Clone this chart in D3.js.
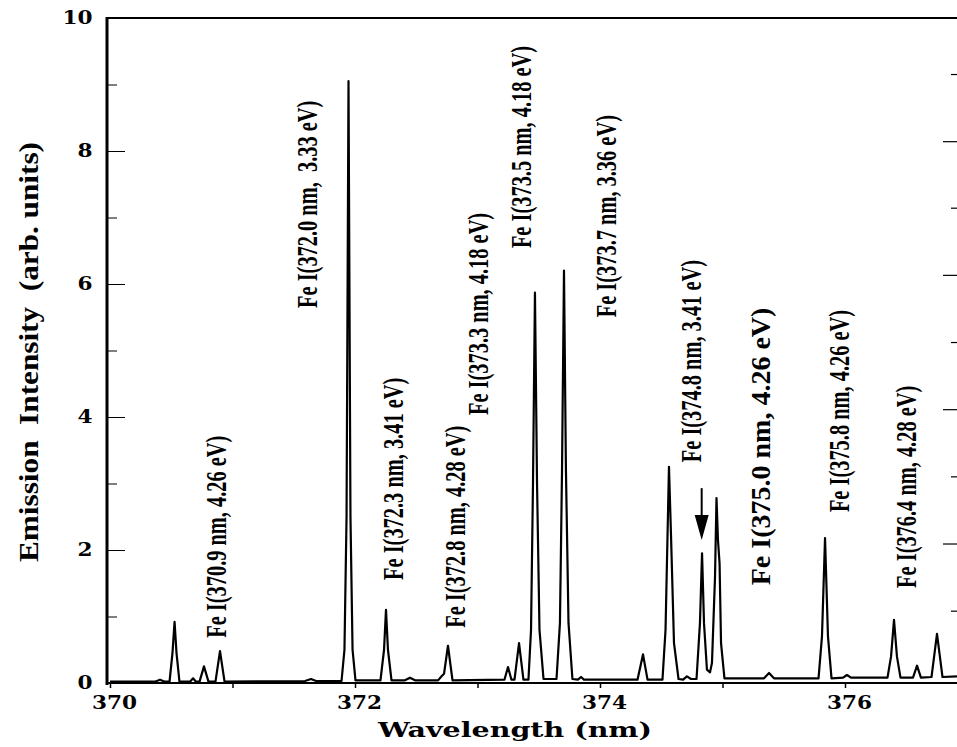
<!DOCTYPE html>
<html>
<head>
<meta charset="utf-8">
<script src="https://cdn.jsdelivr.net/npm/d3@7"></script>
<style>
  html, body { margin: 0; padding: 0; background: #fff; }
  svg { display: block; }
  text { white-space: pre; }
</style>
</head>
<body>
<div id="root"></div>
<script>
const WIDTH = 957;
const HEIGHT = 747;

// spectrum trace, points (nm, arb. units)
const wavelength = [
  370.000, 370.367, 370.408, 370.449, 370.486, 370.510, 370.527, 370.543, 370.567,
  370.653, 370.678, 370.702, 370.731, 370.767, 370.804, 370.861, 370.898, 370.935,
  371.592, 371.641, 371.682, 371.890, 371.914, 371.931, 371.947, 371.963, 371.980, 372.004,
  372.208, 372.237, 372.253, 372.269, 372.298, 372.408, 372.449, 372.490,
  372.678, 372.710, 372.727, 372.759, 372.796,
  373.220, 373.249, 373.277, 373.302, 373.339, 373.375,
  373.416, 373.437, 373.453, 373.469, 373.486, 373.506, 373.539,
  373.645, 373.673, 373.690, 373.706, 373.722, 373.743, 373.775,
  373.820, 373.845, 373.869, 374.306, 374.351, 374.388,
  374.510, 374.535, 374.551, 374.563, 374.580, 374.604, 374.641,
  374.678, 374.710, 374.743,
  374.788, 374.816, 374.833, 374.849, 374.873, 374.898, 374.914,
  374.939, 374.951, 374.963, 374.976, 374.988, 375.016,
  375.339, 375.380, 375.420,
  375.784, 375.812, 375.837, 375.861, 375.890,
  375.984, 376.016, 376.049,
  376.347, 376.376, 376.400, 376.424, 376.453,
  376.555, 376.588, 376.620, 376.706, 376.751, 376.796, 376.914
];
const intensity = [
  0.02, 0.02, 0.05, 0.02, 0.02, 0.45, 0.92, 0.45, 0.02,
  0.02, 0.07, 0.02, 0.02, 0.25, 0.02, 0.02, 0.48, 0.02,
  0.03, 0.06, 0.03, 0.03, 0.5, 2.5, 9.05, 2.5, 0.5, 0.04,
  0.04, 0.5, 1.1, 0.5, 0.04, 0.04, 0.08, 0.04,
  0.04, 0.11, 0.14, 0.56, 0.04,
  0.05, 0.24, 0.05, 0.05, 0.6, 0.05,
  0.05, 0.8, 3.0, 5.87, 3.0, 0.8, 0.06,
  0.06, 0.9, 3.2, 6.2, 3.2, 0.9, 0.06,
  0.05, 0.09, 0.05, 0.05, 0.43, 0.05,
  0.05, 0.8, 2.2, 3.25, 2.2, 0.6, 0.06,
  0.05, 0.1, 0.06,
  0.06, 0.9, 1.95, 0.9, 0.2, 0.16, 0.3,
  1.6, 2.78, 2.15, 1.8, 0.6, 0.07,
  0.07, 0.15, 0.07,
  0.07, 0.7, 2.18, 0.7, 0.07,
  0.08, 0.12, 0.08,
  0.08, 0.4, 0.95, 0.4, 0.08,
  0.08, 0.26, 0.08, 0.09, 0.74, 0.09, 0.1
];

const xTicks = [370, 371, 372, 373, 374, 375, 376];
const yTicks = [0, 1, 2, 3, 4, 5, 6, 7, 8, 9, 10];
// stray tick marks of a second axis at the cut right edge
const rightTicks = [9.15, 8.14, 7.14, 6.13, 5.12, 4.11, 3.1, 2.09, 1.08];

// line identifications
const lineLabels = [
  'Fe I(370.9 nm, 4.26 eV)',
  'Fe I(372.0 nm,  3.33 eV)',
  'Fe I(372.3 nm, 3.41 eV)',
  'Fe I(372.8 nm, 4.28 eV)',
  'Fe I(373.3 nm, 4.18 eV)',
  'Fe I(373.5 nm, 4.18 eV)',
  'Fe I(373.7 nm, 3.36 eV)',
  'Fe I(374.8 nm, 3.41 eV)',
  'Fe I(375.0 nm, 4.26 eV)',
  'Fe I(375.8 nm, 4.26 eV)',
  'Fe I(376.4 nm, 4.28 eV)'
];
const labelWavelength = [370.865, 371.608, 372.302, 372.816, 373.004, 373.355, 374.041, 374.735, 375.306, 375.943, 376.49];
const labelBase = [0.68, 5.64, 1.55, 0.83, 4.03, 6.54, 5.5, 3.32, 1.47, 2.57, 1.43];

// arrow pointing at the 374.8 nm line
const arrowWavelength = 374.83;
const arrowFrom = 2.93;
const arrowTo = 2.15;

const svg = d3.select('#root').append('svg')
  .attr('width', WIDTH)
  .attr('height', HEIGHT);

const x = d3.scaleLinear().domain([370, 377]).range([110, 967.5]);
const y = d3.scaleLinear().domain([0, 10]).range([683, 18]);

const tickFont = "'DejaVu Serif', serif";
const labelFont = "'Liberation Serif', 'Times New Roman', Times, serif";

// bottom axis
const xAxis = svg.append('g')
  .attr('transform', `translate(0,${y(0)})`)
  .call(d3.axisBottom(x)
    .tickValues(xTicks)
    .tickSizeInner(5)
    .tickSizeOuter(0)
    .tickPadding(8)
    .tickFormat(d => (d % 2 === 0 ? d : '')));
xAxis.attr('font-family', null).attr('font-size', null);
xAxis.select('.domain').attr('stroke-width', 2).attr('d', `M107,0H${WIDTH}`);
xAxis.selectAll('.tick line').attr('stroke-width', 1.5);
xAxis.selectAll('text')
  .style('font-family', tickFont)
  .style('font-weight', '900')
  .style('font-size', '18px')
  .attr('fill', '#000')
  .attr('transform', 'translate(4,0) scale(1.2,1)');

// left axis: minor then major ticks
svg.append('g')
  .attr('transform', 'translate(107,0)')
  .call(d3.axisLeft(y)
    .tickValues(yTicks.filter(d => d % 2 === 1))
    .tickSize(-10)
    .tickFormat(''))
  .call(g => g.select('.domain').remove());

const yAxis = svg.append('g')
  .attr('transform', 'translate(107,0)')
  .call(d3.axisLeft(y)
    .tickValues(yTicks.filter(d => d % 2 === 0))
    .tickSizeInner(-18)
    .tickSizeOuter(0)
    .tickPadding(12));
yAxis.attr('font-family', null).attr('font-size', null);
yAxis.select('.domain').attr('stroke-width', 3).attr('d', `M0,${y(10) - 1}V${y(0) + 2}`);
yAxis.selectAll('text')
  .style('font-family', tickFont)
  .style('font-weight', '900')
  .style('font-size', '18px')
  .attr('fill', '#000')
  .attr('transform', 'scale(1.2,1)');

// top frame line
svg.append('line')
  .attr('x1', 107).attr('x2', WIDTH)
  .attr('y1', y(10)).attr('y2', y(10))
  .attr('stroke', '#000')
  .attr('stroke-width', 2);

// right edge tick marks
svg.append('g')
  .selectAll('line')
  .data(rightTicks)
  .join('line')
  .attr('x1', (d, i) => (i % 2 === 1 ? WIDTH - 14 : WIDTH - 6))
  .attr('x2', WIDTH)
  .attr('y1', d => y(d))
  .attr('y2', d => y(d))
  .attr('stroke', '#000')
  .attr('stroke-width', 1.2);

// spectrum
const line = d3.line()
  .x(i => x(wavelength[i]))
  .y(i => y(intensity[i]));

svg.append('path')
  .datum(d3.range(wavelength.length))
  .attr('d', line)
  .attr('fill', 'none')
  .attr('stroke', '#000')
  .attr('stroke-width', 2.2)
  .attr('stroke-linejoin', 'round');

// line labels
svg.append('g')
  .selectAll('text')
  .data(lineLabels)
  .join('text')
  .attr('transform', (d, i) => {
    const squeeze = i === 8 ? 1 : 0.68;
    return `translate(${x(labelWavelength[i])},${y(labelBase[i])}) rotate(-90) scale(${squeeze},1)`;
  })
  .attr('dy', '0.35em')
  .style('font-family', labelFont)
  .style('font-weight', 'bold')
  .style('font-size', (d, i) => (i === 8 ? '28px' : '30px'))
  .text(d => d);

// arrow
const ax = x(arrowWavelength);
svg.append('line')
  .attr('x1', ax).attr('x2', ax)
  .attr('y1', y(arrowFrom)).attr('y2', y(arrowTo) - 20)
  .attr('stroke', '#000')
  .attr('stroke-width', 2);
svg.append('path')
  .attr('d', `M${ax - 7},${y(arrowTo) - 25}L${ax + 7},${y(arrowTo) - 25}L${ax},${y(arrowTo)}Z`)
  .attr('fill', '#000');

// axis titles
svg.append('text')
  .attr('x', 515)
  .attr('y', 737)
  .attr('text-anchor', 'middle')
  .style('font-family', tickFont)
  .style('font-weight', '900')
  .style('font-size', '21px')
  .attr('textLength', 274)
  .attr('lengthAdjust', 'spacingAndGlyphs')
  .text('Wavelength (nm)');

svg.append('text')
  .attr('transform', 'translate(28,562) rotate(-90)')
  .attr('dy', '0.35em')
  .style('font-family', labelFont)
  .style('font-weight', 'bold')
  .style('font-size', '28px')
  .attr('textLength', 420)
  .attr('lengthAdjust', 'spacingAndGlyphs')
  .text('Emission  Intensity  (arb. units)');
</script>
</body>
</html>
